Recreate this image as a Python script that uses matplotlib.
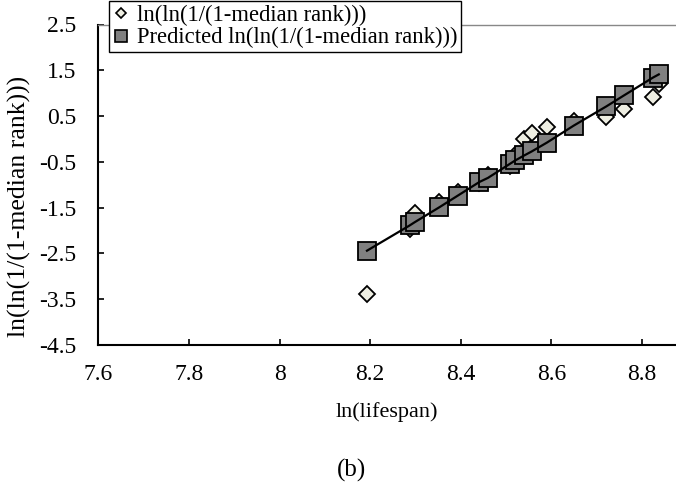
import matplotlib
matplotlib.use("Agg")
import matplotlib.pyplot as plt
from matplotlib.lines import Line2D

plt.rcParams['font.family'] = ['Liberation Serif', 'DejaVu Serif']
plt.rcParams['font.size'] = 16

# ln(lifespan) for each unit
ln_life = [8.193, 8.287, 8.298, 8.353, 8.393, 8.441, 8.460, 8.509, 8.520,
           8.540, 8.557, 8.590, 8.649, 8.721, 8.760, 8.824, 8.837]
# observed ln(ln(1/(1-median rank)))
observed = [-3.38, -1.97, -1.61, -1.37, -1.15, -0.96, -0.78, -0.58, -0.35,
            0.00, 0.12, 0.26, 0.39, 0.48, 0.66, 0.91, 1.21]
# predicted ln(ln(1/(1-median rank)))
predicted = [-2.44, -1.89, -1.82, -1.49, -1.24, -0.94, -0.85, -0.54, -0.47,
             -0.36, -0.27, -0.08, 0.29, 0.71, 0.95, 1.34, 1.41]

obs_label = "ln(ln(1/(1-median rank)))"
pred_label = "Predicted ln(ln(1/(1-median rank)))"
xticks = [7.6, 7.8, 8.0, 8.2, 8.4, 8.6, 8.8]
xtick_labels = ["7.6", "7.8", "8", "8.2", "8.4", "8.6", "8.8"]
yticks = [2.5, 1.5, 0.5, -0.5, -1.5, -2.5, -3.5, -4.5]

fig = plt.figure(figsize=(6.76, 4.82), dpi=100)
ax = fig.add_axes([98.3 / 676, 1 - 345 / 482, 1 - 98.3 / 676, (345 - 24.5) / 482])

ax.plot(ln_life, observed, linestyle='none', marker='D', markersize=8.5,
        markerfacecolor='#eeeee2', markeredgecolor='black', markeredgewidth=1.3, zorder=2)
ax.plot(ln_life, predicted, linestyle='none', marker='s', markersize=13,
        markerfacecolor='#808080', markeredgecolor='black', markeredgewidth=1.3, zorder=3)
ax.plot(ln_life, predicted, color='black', linewidth=1.6, zorder=4)

ax.set_xlim(7.6, 8.875)
ax.set_ylim(-4.5, 2.5)
ax.set_xticks(xticks)
ax.set_xticklabels(xtick_labels)
ax.set_yticks(yticks)
ax.set_yticklabels([f"{v:.1f}" for v in yticks])
ax.tick_params(axis='x', direction='in', length=4.5, width=1.2, pad=14, labelsize=17)
ax.tick_params(axis='y', direction='in', length=4, width=1.2, pad=16, labelsize=17)

for s in ['left', 'bottom']:
    ax.spines[s].set_linewidth(1.5)
ax.spines['right'].set_visible(False)
ax.spines['top'].set_color('#888888')
ax.spines['top'].set_linewidth(1.0)

ax.set_xlabel("ln(lifespan)", labelpad=12)
ax.set_ylabel(obs_label, fontsize=18.5, va='center')
ax.yaxis.set_label_coords((19 - 98.3) / 577.7, (345 - 206) / 320.5)

handles = [
    Line2D([], [], linestyle='none', marker='D', markersize=5.2,
           markerfacecolor='#eeeee2', markeredgecolor='black', markeredgewidth=1.2),
    Line2D([], [], linestyle='none', marker='s', markersize=8.5,
           markerfacecolor='#808080', markeredgecolor='black', markeredgewidth=1.2),
]
leg = ax.legend(handles, [obs_label, pred_label], loc='upper left',
                bbox_to_anchor=(109 / 676, 1 - 1 / 482), bbox_transform=fig.transFigure,
                borderaxespad=0, handlelength=0.8, handletextpad=0.3, borderpad=0.15,
                labelspacing=0.08, fancybox=False, framealpha=1, edgecolor='black',
                fontsize=16.3)
leg.get_frame().set_linewidth(1.0)
leg.set_zorder(10)

fig.text(352 / 676, 1 - 470 / 482, "(b)", ha='center', va='center', fontsize=18)

fig.savefig("out.png", dpi=100)
plt.close(fig)
